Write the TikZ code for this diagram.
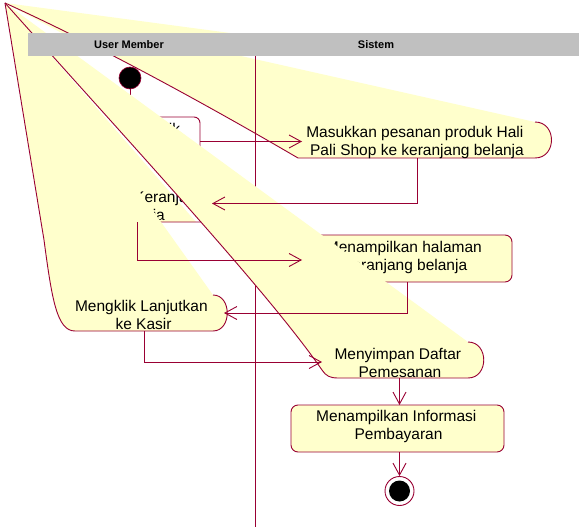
\documentclass[tikz,border=0pt]{standalone}
\usepackage{fontspec}
\setmainfont{Liberation Sans}
\usetikzlibrary{arrows.meta}
\definecolor{lc}{RGB}{153,0,51}
\definecolor{fy}{RGB}{255,255,204}
\definecolor{hg}{RGB}{192,192,192}
\newcommand\trsp{\kern4.3pt}
\begin{document}
\begin{tikzpicture}[x=1pt,y=-1pt,
  edge/.style={draw=lc, line width=0.9pt},
  flow/.style={draw=lc, line width=0.9pt, -{Straight Barb[length=12pt,width=13pt]}},
  txt/.style={align=center, inner sep=0pt, font=\fontsize{15.5}{18}\selectfont},
  hdr/.style={font=\fontsize{11}{13}\selectfont\bfseries, inner sep=0pt},
  actbox/.style={draw=lc, fill=fy, line width=0.9pt, rounded corners=7pt},
  startdot/.style={circle, fill=black, draw=lc, line width=0.6pt, minimum size=22pt, inner sep=0pt},
  endring/.style={circle, draw=lc, fill=white, line width=0.9pt, minimum size=29pt, inner sep=0pt},
  enddot/.style={circle, fill=black, minimum size=21pt, inner sep=0pt}
]
\useasboundingbox (0,0) rectangle (579,527);
\fill[white] (0,0) rectangle (579,527);
\coordinate (apex) at (5,3);

% stray wedge above the header
\fill[fy] (apex) -- (230,33) -- (230,40) -- (75,40) -- cycle;

% B : Masukkan pesanan ... (glitched shape)
\fill[fy] (apex) .. controls (120,55) and (250,130) .. (298,158) -- (535,158) .. controls (557,158) and (557,122) .. (535,122) -- cycle;
\draw[edge] (apex) .. controls (120,55) and (250,130) .. (298,158) -- (535,158) .. controls (557,158) and (557,122) .. (535,122);
\node[txt] (B) at (417,142) {Masukkan pesanan produk Hali\trsp\\Pali Shop ke keranjang belanja};

% swimlane divider
\draw[edge] (255.5,56) -- (255.5,527);

% A (mostly hidden)
\draw[edge, rounded corners=6pt] (140,117) -- (200,117) -- (200,150);
\begin{scope}
  \clip (apex) -- (468,342) -- (579,342) -- (579,0) -- cycle;
  \node[txt] (A) at (149.5,130) {Mengklik};
\end{scope}

% C (glitched fill between the wedges)
\fill[fy] (apex) -- (160,222) -- (196,222) -- cycle;
\draw[edge, rounded corners=6pt] (140,222) -- (212,222) -- (212,200);
\node[txt] (C) at (139,207) {Mengklik Keranjang\trsp\\Belanja};

% D
\draw[actbox] (300,235) rectangle (512,282);
\node[txt] (D) at (406,257) {Menampilkan halaman\trsp\\keranjang belanja};

% start
\node[startdot] (S) at (130,78) {};
\coordinate (Atop) at (130,117);
\draw[flow] (S) -- (Atop);

% N3 : Mengklik Lanjutkan ke Kasir (glitched shape)
\fill[fy] (apex) -- (44,240) .. controls (52,300) and (57,331) .. (75,331) -- (213,331) .. controls (232,331) and (232,295) .. (213,295) -- cycle;
\draw[edge] (apex) -- (44,240) .. controls (52,300) and (57,331) .. (75,331) -- (213,331) .. controls (232,331) and (232,295) .. (213,295);
\node[txt] (N3) at (143.5,315) {Mengklik Lanjutkan\trsp\\ke Kasir};

% E : Menyimpan Daftar Pemesanan (glitched shape)
\fill[fy] (apex) .. controls (150,165) and (270,295) .. (322,370) .. controls (326,376) and (330,378) .. (338,378) -- (468,378) .. controls (489,378) and (489,342) .. (468,342) -- cycle;
\draw[edge] (apex) .. controls (150,165) and (270,295) .. (322,370) .. controls (326,376) and (330,378) .. (338,378) -- (468,378) .. controls (489,378) and (489,342) .. (468,342);
\node[txt] (E) at (400,363) {Menyimpan Daftar\trsp\\Pemesanan};

% F
\draw[actbox] (291,405) rectangle (504,452);
\node[txt] (F) at (398.5,426) {Menampilkan Informasi\trsp\\Pembayaran};

% end
\node[endring] (End) at (399.5,491) {};
\node[enddot] (EndDot) at (End) {};

% header
\fill[hg] (28.3,33.3) rectangle (579,55.7);
\node[hdr] (H1) at (129,44.5) {User Member};
\node[hdr] (H2) at (376,44.5) {Sistem};

% connectors
\coordinate (Aout) at (200,141.5);
\coordinate (Bin) at (302,141.5);
\coordinate (Bbot) at (417.5,158);
\coordinate (Cin) at (212,203.5);
\coordinate (Cbot) at (137,222);
\coordinate (Din) at (302,260);
\coordinate (Dbot) at (407,282);
\coordinate (N3in) at (224,313);
\coordinate (N3bot) at (144.5,331);
\coordinate (Ein) at (322,362);
\coordinate (Ebot) at (399.5,378);
\coordinate (Ftop) at (399.5,405);
\coordinate (Fbot) at (399.5,452);
\draw[flow] (Aout) -- (Bin);
\draw[flow] (Bbot) |- (Cin);
\draw[flow] (Cbot) |- (Din);
\draw[flow] (Dbot) |- (N3in);
\draw[flow] (N3bot) |- (Ein);
\draw[flow] (Ebot) -- (Ftop);
\draw[flow] (Fbot) -- (End);
\end{tikzpicture}
\end{document}
